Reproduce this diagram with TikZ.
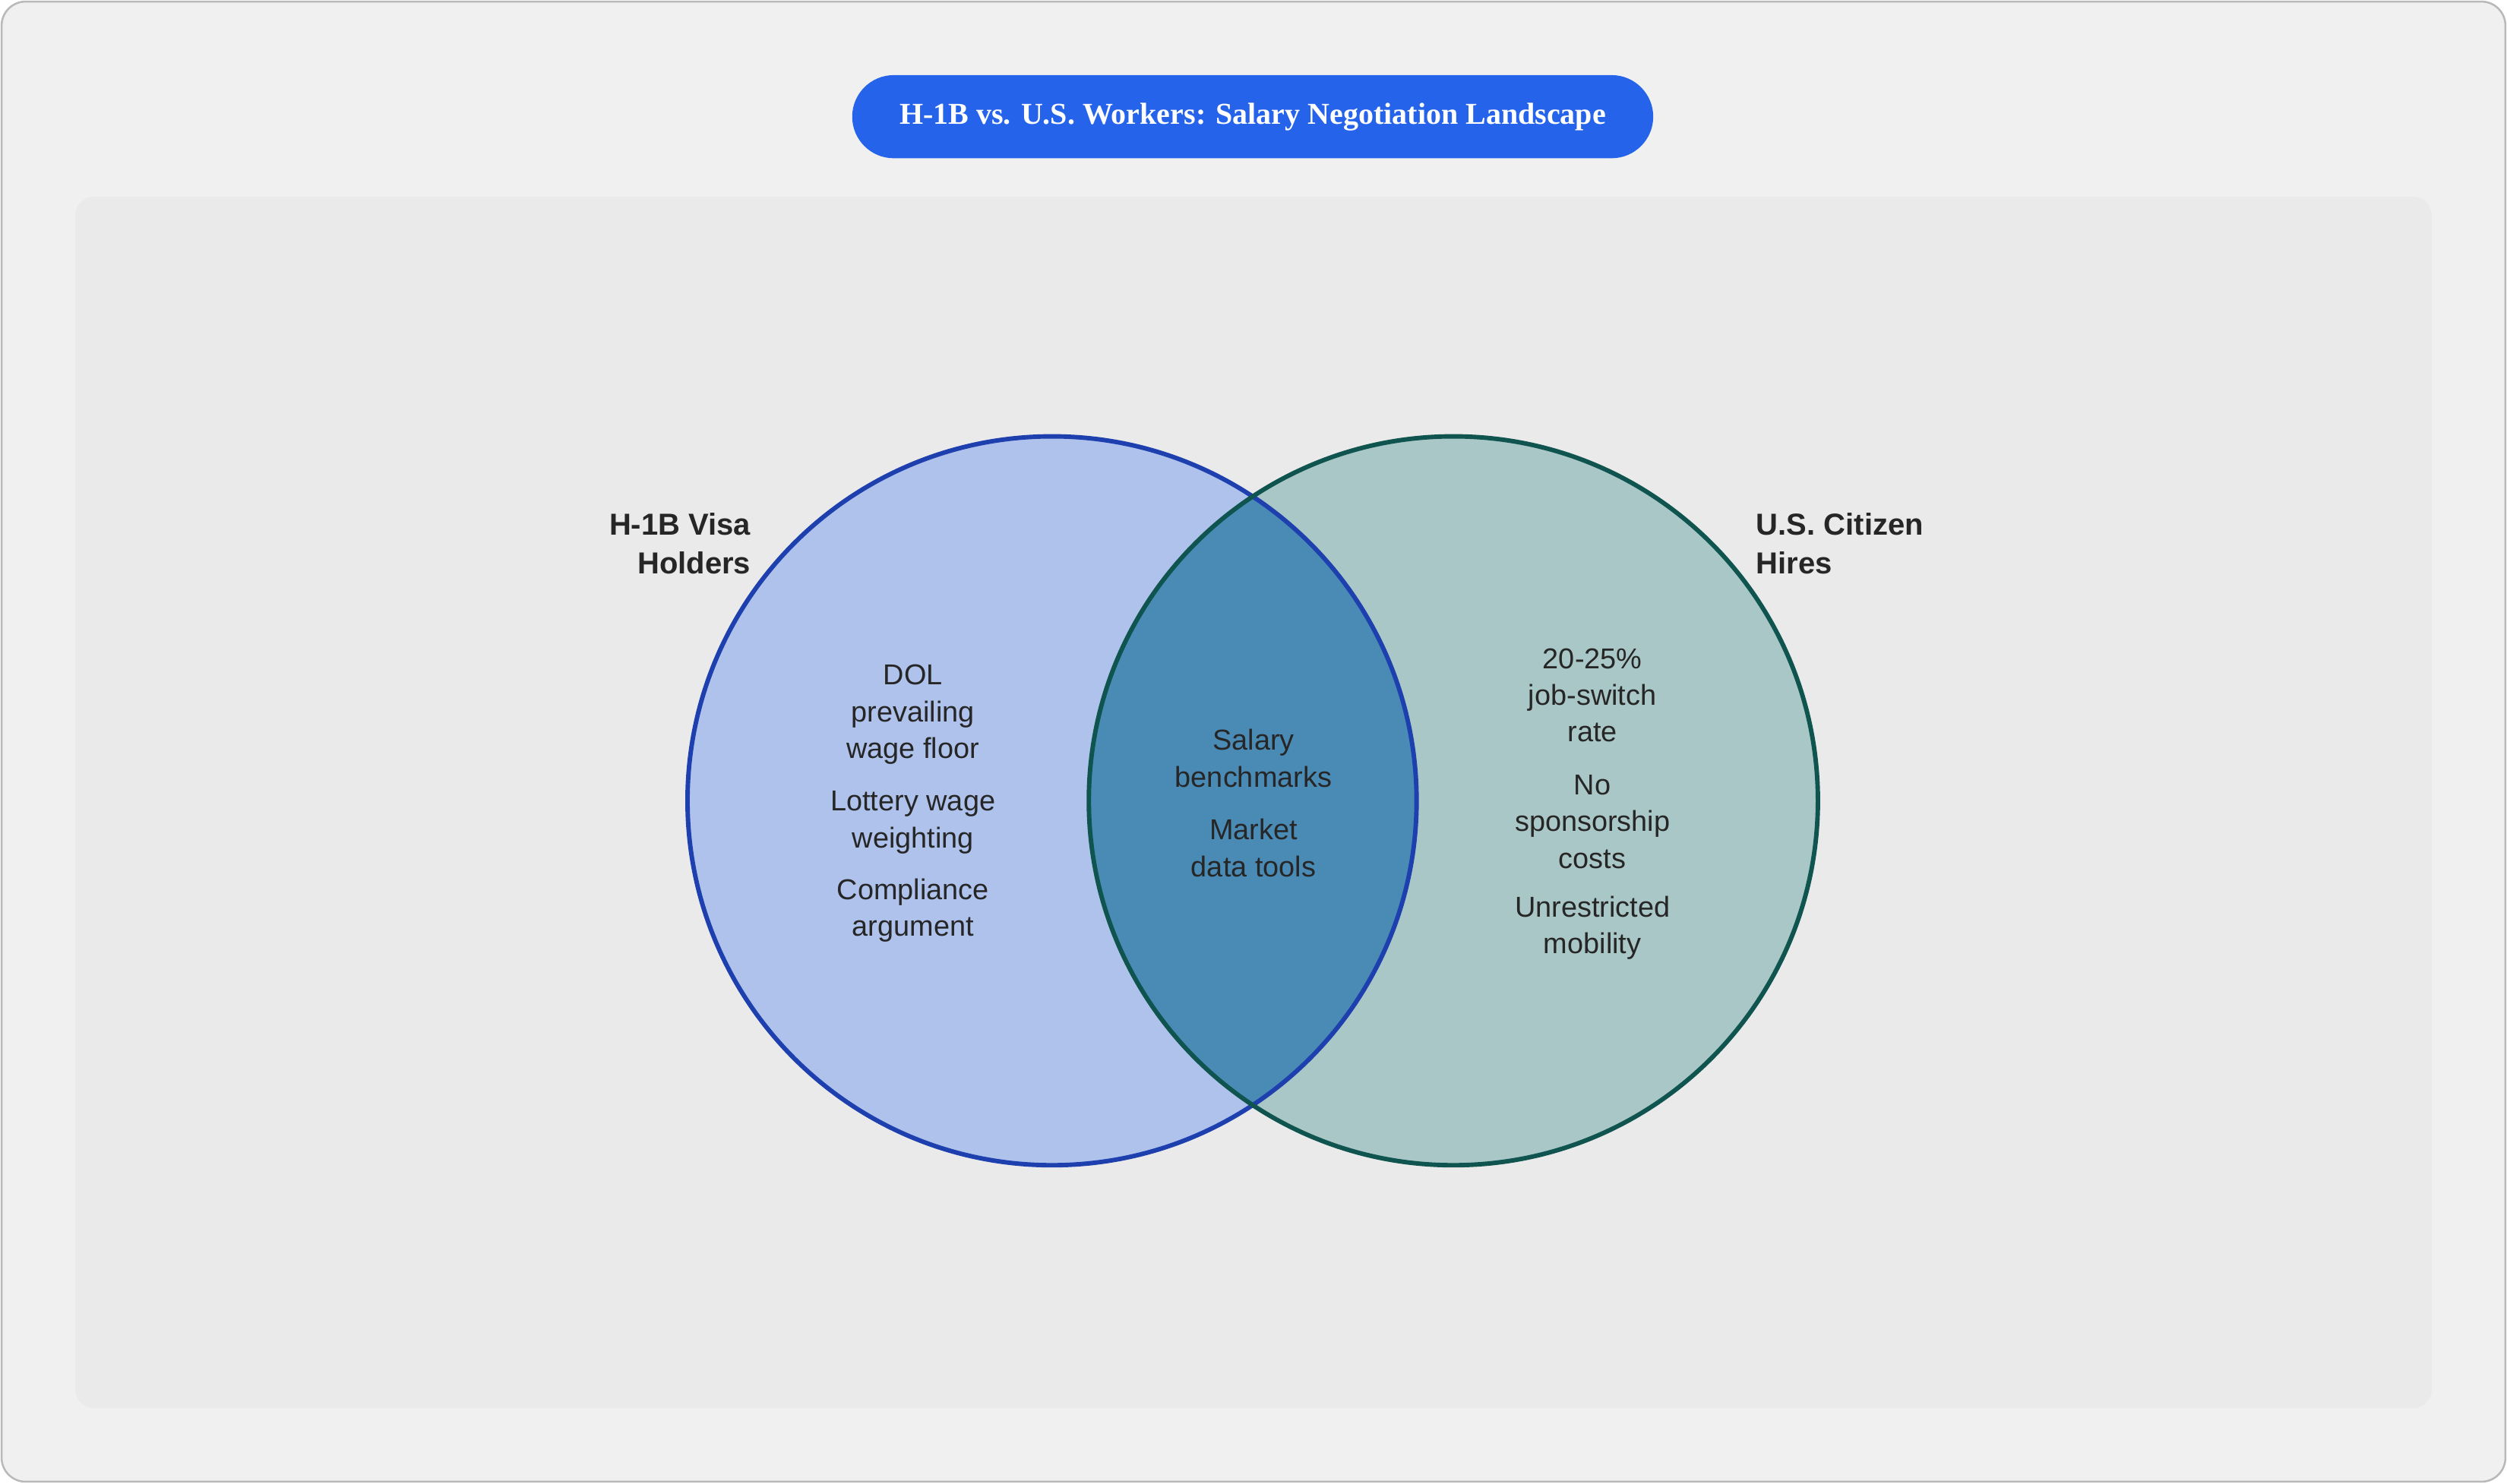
\documentclass[tikz,border=0pt]{standalone}
\usepackage{fontspec}
\setmainfont{Liberation Sans}
\newfontfamily\titlefont{Liberation Serif}
\begin{document}
\begin{tikzpicture}[x=1pt,y=-1pt,
  body/.style={align=center,font=\fontsize{18}{23}\selectfont,text=black!85},
  lab/.style={font=\bfseries\fontsize{19}{24}\selectfont,text=black!85}]
\definecolor{leftfill}{HTML}{AEC2EC}\definecolor{leftline}{HTML}{1E40AF}
\definecolor{rightfill}{HTML}{A9C7C6}\definecolor{rightline}{HTML}{0F544F}
\definecolor{midfill}{HTML}{4A8BB6}\definecolor{titleblue}{HTML}{2563EB}
\definecolor{outerbg}{HTML}{F0F0F0}\definecolor{outerline}{HTML}{B9B9B9}
\definecolor{panelbg}{HTML}{EAEAEA}
\useasboundingbox (0,0) rectangle (1568,928);
\draw[fill=outerbg,draw=outerline,line width=1.2pt,rounded corners=15pt] (1,1) rectangle (1567,927);
\fill[panelbg,rounded corners=12pt] (47,123) rectangle (1521,881);
\node[fill=titleblue,rounded corners=26pt,minimum width=501pt,minimum height=52pt,text=white,font=\titlefont\bfseries\fontsize{19}{23}\selectfont] (title) at (783.5,73) {H-1B vs. U.S. Workers: Salary Negotiation Landscape};
\fill[leftfill] (658,501) circle (228);
\fill[rightfill] (909,501) circle (228);
\begin{scope}
\clip (658,501) circle (228);
\fill[midfill] (909,501) circle (228);
\end{scope}
\draw[leftline,line width=2.8pt] (658,501) circle (228);
\draw[rightline,line width=2.8pt] (909,501) circle (228);
\node[lab,align=right,anchor=east] (lt) at (473,340) {H-1B Visa\\Holders};
\node[lab,align=left,anchor=west] (rt) at (1095,340) {U.S. Citizen\\Hires};
\node[body] (l1) at (571,447) {DOL\\prevailing\\wage floor};
\node[body] (l2) at (571,514.5) {Lottery wage\\weighting};
\node[body] (l3) at (571,569.5) {Compliance\\argument};
\node[body] (m1) at (784,474.5) {Salary\\benchmarks};
\node[body] (m2) at (784,530.5) {Market\\data tools};
\node[body] (r1) at (996,435) {20-25\%\\job-switch\\rate};
\node[body] (r2) at (996,514) {No\\sponsorship\\costs};
\node[body] (r3) at (996,580.5) {Unrestricted\\mobility};
\end{tikzpicture}
\end{document}
